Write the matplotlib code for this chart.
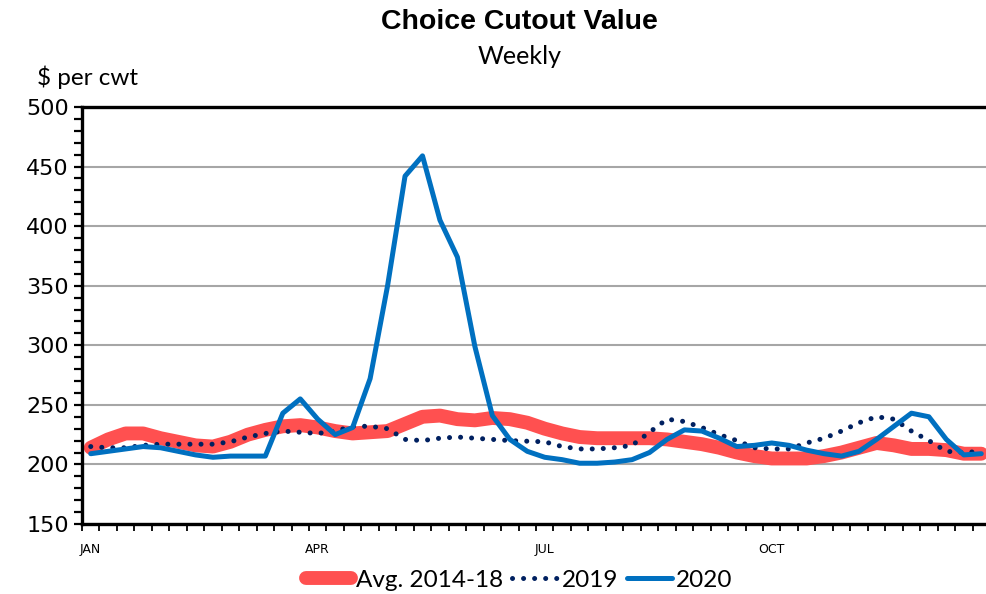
import matplotlib
matplotlib.use("Agg")
import matplotlib.pyplot as plt
import numpy as np

weeks = list(range(52))
month_labels = {0: "JAN", 13: "APR", 26: "JUL", 39: "OCT"}

avg_2014_18 = [214, 221, 226, 226, 222, 219, 216, 215, 219, 225, 229, 232, 233, 231, 228, 226,
               227, 228, 234, 240, 241, 238, 237, 239, 238, 235, 230, 226, 223, 222, 222, 222,
               222, 221, 219, 217, 214, 210, 207, 205, 205, 205, 207, 210, 214, 218, 216, 213,
               213, 212, 209, 209]
y2019 = [215, 214, 214, 216, 217, 217, 217, 217, 219, 223, 226, 228, 227, 226, 228, 232,
         232, 230, 221, 220, 222, 223, 222, 221, 220, 219.5, 219, 215, 213, 213, 214, 216,
         227, 238, 236, 231, 225, 220, 214, 213, 213, 218, 222, 228, 235, 240, 238, 228,
         220, 211, 210, 211]
y2020 = [209, 211, 213, 215, 214, 211, 208, 206, 207, 207, 207, 243, 255, 238, 225, 231,
         272, 350, 442, 459, 405, 374, 299, 241, 221, 211, 206, 204, 201, 201, 202, 204,
         210, 221, 229, 228, 222, 215, 216, 218, 216, 212, 209, 207, 211, 221, 232, 243,
         240, 221, 208, 209]

fig = plt.figure(figsize=(9.86, 5.94), dpi=100)
ax = fig.add_axes([82/986, 1-524/594, (990-82)/986, (524-107)/594])

x = np.array(weeks)
ax.plot(x, avg_2014_18, color="#FF5050", lw=10, solid_capstyle="round", solid_joinstyle="round",
        label="Avg. 2014-18", zorder=2)
ax.plot(x, y2019, color="#002060", lw=3.6, linestyle=(0, (0.01, 2.2)), dash_capstyle="round",
        label="2019", zorder=3)
ax.plot(x, y2020, color="#0070C0", lw=3.6, solid_joinstyle="round", solid_capstyle="round",
        label="2020", zorder=4)

ax.set_xlim(-0.5, 51.5)
ax.set_ylim(150, 500)
ax.set_yticks(np.arange(150, 501, 50))
ax.set_yticks(np.arange(150, 501, 10), minor=True)
ax.yaxis.grid(True, which="major", color="#A6A6A6", lw=1.5, zorder=0)
ax.set_axisbelow(True)

ax.set_xticks(list(month_labels.keys()))
ax.set_xticklabels(list(month_labels.values()), fontsize=9, family="DejaVu Sans")
ax.set_xticks(np.arange(-0.5, 52, 1), minor=True)
ax.tick_params(axis="x", which="major", length=0, pad=14)
ax.tick_params(axis="x", which="minor", length=5, width=1.3, direction="out")
ax.tick_params(axis="y", which="both", length=6, width=1.6, direction="out", labelsize=16)
for t in ax.get_yticklabels():
    t.set_family("DejaVu Sans")

for s in ["left", "bottom", "top"]:
    ax.spines[s].set_linewidth(2.4)
    ax.spines[s].set_color("black")
ax.spines["right"].set_visible(False)

fig.text(0.527, 1-22/594, "Choice Cutout Value", ha="center", va="center",
         fontsize=20.5, fontweight="bold", family="Liberation Sans")
fig.text(0.527, 1-57/594, "Weekly", ha="center", va="center", fontsize=18, family="Lato")
fig.text(37/986, 1-77/594, "$ per cwt", ha="left", va="center", fontsize=17.5, family="Lato")

leg = fig.legend(loc="center", bbox_to_anchor=(0.527, 1-580/594), ncol=3, frameon=False,
                 handlelength=1.85, handletextpad=0.2, columnspacing=0.35,
                 prop={"family": "Lato", "size": 17.5})
plt.savefig("out.png", dpi=100)
